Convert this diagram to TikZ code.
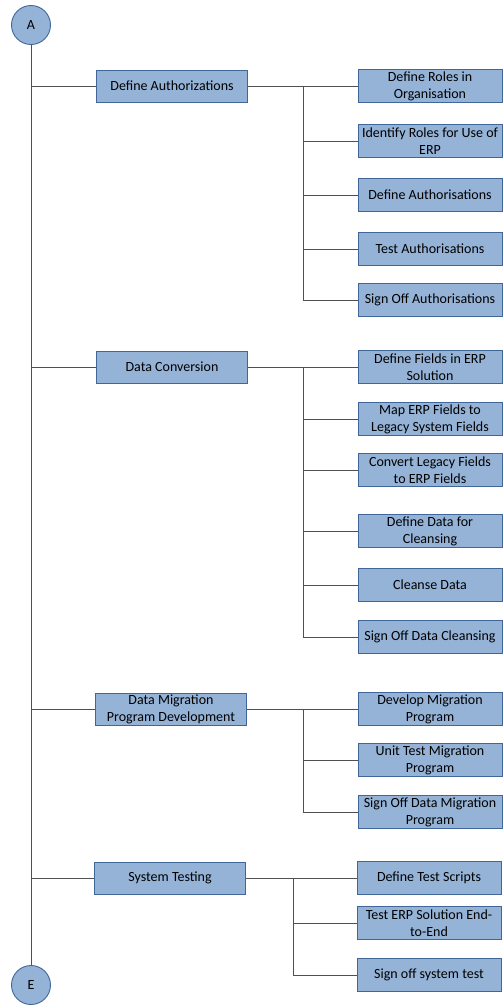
\documentclass[tikz,border=0pt]{standalone}
\usepackage{fontspec}
\setmainfont{Carlito}
\definecolor{boxfill}{HTML}{95B3D7}
\definecolor{boxline}{HTML}{41679A}
\definecolor{linkgray}{HTML}{505050}

\begin{document}
\begin{tikzpicture}[x=1pt,y=-1pt,
  mainbox/.style={draw=boxline,fill=boxfill,line width=0.9pt,minimum width=151pt,
    minimum height=32pt,inner sep=0pt,align=center,font=\fontsize{14}{17}\selectfont},
  subbox/.style={mainbox,minimum width=144pt,minimum height=33pt},
  endpt/.style={circle,draw=boxline,fill=boxfill,line width=0.9pt,minimum size=39pt,
    inner sep=0pt,font=\fontsize{14}{17}\selectfont},
  link/.style={draw=linkgray,line width=1pt}]
 	\useasboundingbox (0,0) rectangle (503,1005);
 	% start and end
 	\node[endpt] (A) at (31,25) {A};
 	\node[endpt] (E) at (31,985) {E};
 	% main steps
 	\node[mainbox] (auth) at (172,86) {Define Authorizations};
 	\node[mainbox] (conv) at (172,367) {Data Conversion};
 	\node[mainbox] (migr) at (171,709) {Data Migration\\Program Development};
 	\node[mainbox] (test) at (170,878) {System Testing};
 	% authorizations
 	\node[subbox] (roles) at (430,86) {Define Roles in\\Organisation};
 	\node[subbox] (ident) at (430,141) {Identify Roles for Use of\\ERP};
 	\node[subbox] (defauth) at (430,195) {Define Authorisations};
 	\node[subbox] (testauth) at (430,249) {Test Authorisations};
 	\node[subbox] (signauth) at (430,300) {Sign Off Authorisations};
 	% conversion
 	\node[subbox] (fields) at (430,367) {Define Fields in ERP\\Solution};
 	\node[subbox] (mapf) at (430,419) {Map ERP Fields to\\Legacy System Fields};
 	\node[subbox] (convf) at (430,470) {Convert Legacy Fields\\to ERP Fields};
 	\node[subbox] (defdata) at (430,531) {Define Data for\\Cleansing};
 	\node[subbox] (cleanse) at (430,585) {Cleanse Data};
 	\node[subbox] (signclean) at (430,637) {Sign Off Data Cleansing};
 	% migration
 	\node[subbox] (devmig) at (430,709) {Develop Migration\\Program};
 	\node[subbox] (unitmig) at (430,760) {Unit Test Migration\\Program};
 	\node[subbox] (signmig) at (430,812) {Sign Off Data Migration\\Program};
 	% testing
 	\node[subbox] (scripts) at (429,878) {Define Test Scripts};
 	\node[subbox] (endtest) at (429,923) {Test ERP Solution End-\\to-End};
 	\node[subbox] (signtest) at (429,975) {Sign off system test};
 	% junctions
 	\coordinate (jauth) at ([xshift=55.5pt]auth.east);
 	\coordinate (jconv) at ([xshift=55.5pt]conv.east);
 	\coordinate (jmigr) at ([xshift=56.5pt]migr.east);
 	\coordinate (jtest) at ([xshift=47.5pt]test.east);
 	% trunk
 	\draw[link] (A) -- (E);
 	\foreach \n in {auth,conv,migr,test}
 		\draw[link] (\n.west -| A) -- (\n.west);
 	% branches
 	\draw[link] (auth.east) -- (roles.west);
 	\draw[link] (jauth) |- (signauth.west);
 	\foreach \n in {ident,defauth,testauth}
 		\draw[link] (jauth |- \n.west) -- (\n.west);
 	\draw[link] (conv.east) -- (fields.west);
 	\draw[link] (jconv) |- (signclean.west);
 	\foreach \n in {mapf,convf,defdata,cleanse}
 		\draw[link] (jconv |- \n.west) -- (\n.west);
 	\draw[link] (migr.east) -- (devmig.west);
 	\draw[link] (jmigr) |- (signmig.west);
 	\draw[link] (jmigr |- unitmig.west) -- (unitmig.west);
 	\draw[link] (test.east) -- (scripts.west);
 	\draw[link] (jtest) |- (signtest.west);
 	\draw[link] (jtest |- endtest.west) -- (endtest.west);
\end{tikzpicture}
\end{document}
